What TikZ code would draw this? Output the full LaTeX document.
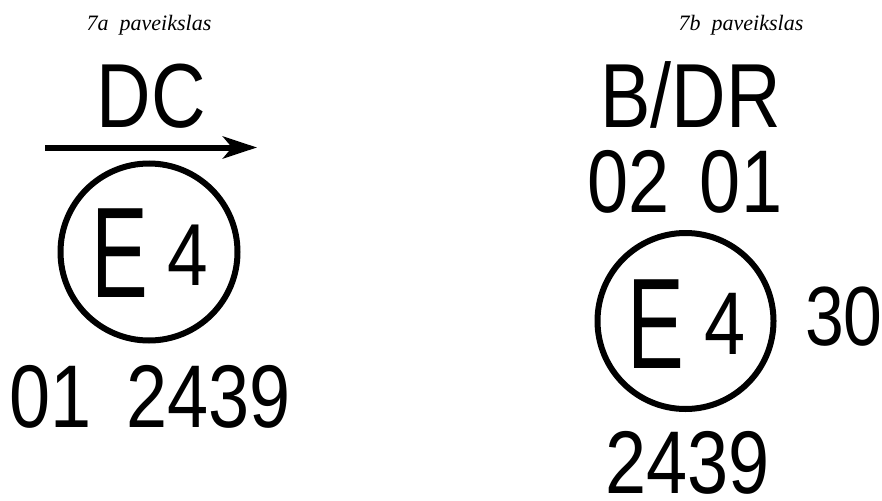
\documentclass[tikz,border=0pt]{standalone}
\usepackage{fontspec}
\usetikzlibrary{arrows.meta}
\newfontfamily\sgnfont[FakeStretch=0.83]{Liberation Sans}
\newfontfamily\efont[FakeStretch=0.66]{Liberation Sans}
\newfontfamily\capfont{Liberation Serif}
\tikzset{
  caption/.style={anchor=base,inner sep=0pt,font=\capfont\itshape\fontsize{22}{22}\selectfont},
  bigtxt/.style={anchor=base,inner sep=0pt,font=\sgnfont\fontsize{91}{91}\selectfont},
  digtxt/.style={anchor=base,inner sep=0pt,font=\sgnfont\fontsize{89}{89}\selectfont},
  etxt/.style={anchor=base,inner sep=0pt,font=\efont\fontsize{129}{129}\selectfont},
  ring/.style={circle,draw,line width=6pt,inner sep=0pt},
  dirarrow/.style={line width=6pt,-{Stealth[length=34pt,width=22pt,inset=9pt]}}
}
\begin{document}
\begin{tikzpicture}[x=1pt,y=-1pt]
\useasboundingbox (0,0) rectangle (882,500);
% left
\node[caption] (capa) at (149,31) {7a\ \ paveikslas};
\node[bigtxt] (dc) at (151.5,127) {DC};
\coordinate (arrs) at (45,147.5);
\coordinate (arre) at (257,147.5);
\draw[dirarrow] (arrs) -- (arre);
\node[ring,minimum size=177pt] (ringa) at (149,252) {};
\node[etxt] (ea) at (119.5,297) {E};
\node[digtxt] (foura) at (187.5,285) {\fontsize{88}{88}\selectfont 4};
\node[digtxt] (n01) at (51,427) {01};
\node[digtxt] (n2439a) at (208.5,427) {2439};
% right
\node[caption] (capb) at (741,31) {7b\ \ paveikslas};
\node[bigtxt] (bdr) at (690.5,127) {B/DR};
\node[digtxt] (n02) at (629,212) {02};
\node[digtxt] (n01b) at (741,212) {01};
\node[ring,minimum size=176pt] (ringb) at (685.5,321) {};
\node[etxt] (eb) at (655.5,368) {E};
\node[digtxt] (fourb) at (725,354) {4};
\node[digtxt,anchor=base west,font=\sgnfont\fontsize{84}{84}\selectfont] (n30) at (805,345) {30};
\node[digtxt] (n2439b) at (687.5,493) {2439};
\end{tikzpicture}
\end{document}
